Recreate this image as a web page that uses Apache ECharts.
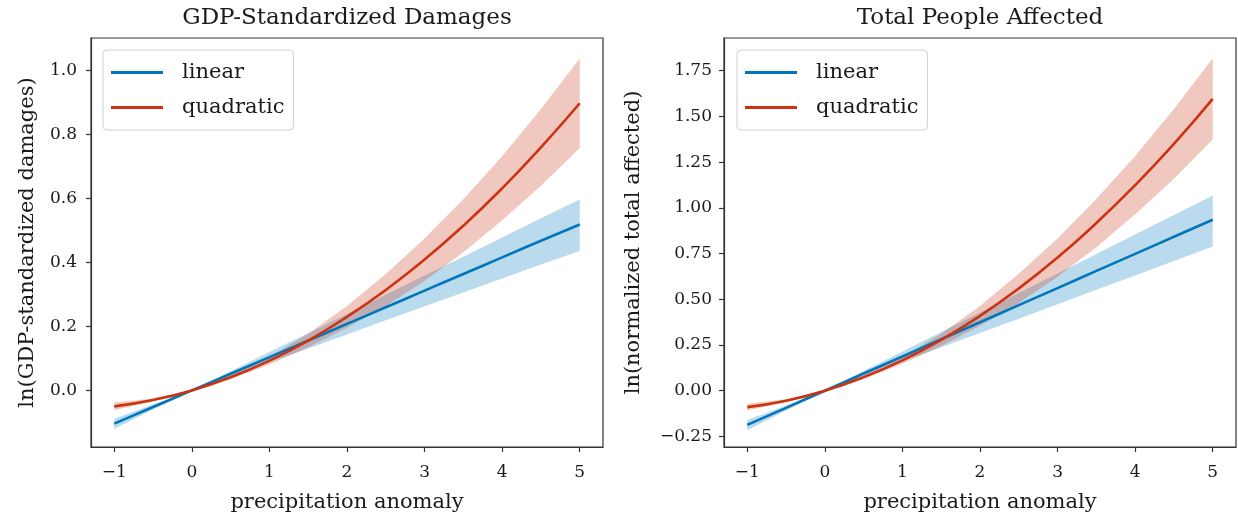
<!DOCTYPE html>
<html>
<head>
<meta charset="utf-8">
<script src="https://cdn.jsdelivr.net/npm/echarts@6/dist/echarts.min.js"></script>
<style>
  html, body { margin: 0; padding: 0; background: #fff; }
  #chart { width: 1238px; height: 518px; }
</style>
</head>
<body>
<div id="chart"></div>
<script>
// precipitation anomaly sample points
var xs = [-1, -0.5, 0, 0.5, 1, 1.5, 2, 2.5, 3, 3.5, 4, 4.5, 5];

// left panel: GDP-standardized damages
var dmgLinear   = [-0.104, -0.052, 0, 0.052, 0.104, 0.156, 0.208, 0.260, 0.312, 0.364, 0.416, 0.468, 0.519];
var dmgLinearHi = [-0.089, -0.044, 0, 0.060, 0.120, 0.179, 0.239, 0.299, 0.359, 0.418, 0.478, 0.538, 0.597];
var dmgLinearLo = [-0.121, -0.060, 0, 0.044, 0.088, 0.131, 0.175, 0.219, 0.263, 0.306, 0.350, 0.394, 0.436];
var dmgQuad     = [-0.050, -0.030, 0, 0.041, 0.093, 0.156, 0.230, 0.314, 0.409, 0.515, 0.632, 0.760, 0.898];
var dmgQuadHi   = [-0.038, -0.025, 0, 0.047, 0.105, 0.177, 0.264, 0.364, 0.475, 0.598, 0.732, 0.880, 1.038];
var dmgQuadLo   = [-0.062, -0.035, 0, 0.035, 0.081, 0.135, 0.196, 0.264, 0.343, 0.432, 0.532, 0.640, 0.758];

// right panel: total people affected
var affLinear   = [-0.187, -0.094, 0, 0.094, 0.187, 0.281, 0.374, 0.468, 0.561, 0.655, 0.748, 0.842, 0.935];
var affLinearHi = [-0.161, -0.081, 0, 0.107, 0.214, 0.321, 0.427, 0.534, 0.641, 0.748, 0.854, 0.961, 1.068];
var affLinearLo = [-0.217, -0.109, 0, 0.079, 0.158, 0.237, 0.315, 0.394, 0.473, 0.552, 0.630, 0.709, 0.788];
var affQuad     = [-0.090, -0.055, 0, 0.074, 0.166, 0.278, 0.409, 0.559, 0.728, 0.917, 1.124, 1.350, 1.596];
var affQuadHi   = [-0.071, -0.047, 0, 0.084, 0.185, 0.311, 0.463, 0.639, 0.833, 1.049, 1.283, 1.541, 1.818];
var affQuadLo   = [-0.109, -0.063, 0, 0.064, 0.147, 0.245, 0.355, 0.479, 0.623, 0.785, 0.965, 1.159, 1.374];

// tick labels
var xTicks = [-1, 0, 1, 2, 3, 4, 5];
var dmgTicks = [0, 0.2, 0.4, 0.6, 0.8, 1.0];
var affTicks = [-0.25, 0, 0.25, 0.5, 0.75, 1.0, 1.25, 1.5, 1.75];

var BLUE = '#0077bb', RED = '#cc3311';
var BLUE_BAND = 'rgba(0,119,187,0.27)', RED_BAND = 'rgba(204,51,17,0.27)';
var FONT = '"DejaVu Serif", "Liberation Serif", serif';
var INK = '#1a1a1a';

function pairs(ys) {
  return xs.map(function (x, i) { return [x, ys[i]]; });
}
function minus(v, digits) {
  var s = Math.abs(v).toFixed(digits);
  return (v < 0 ? '\u2212' : '') + s;
}

// confidence band: one polygon, upper edge forward then lower edge back
function band(idx, lo, hi, color) {
  return {
    type: 'custom', xAxisIndex: idx, yAxisIndex: idx, silent: true, z: 1,
    data: xs.map(function (x, i) { return [x, lo[i], hi[i]]; }),
    encode: { x: 0, y: [1, 2] },
    renderItem: function (params, api) {
      if (params.dataIndex !== 0) return null;
      var pts = [];
      for (var i = 0; i < xs.length; i++) pts.push(api.coord([xs[i], hi[i]]));
      for (var j = xs.length - 1; j >= 0; j--) pts.push(api.coord([xs[j], lo[j]]));
      return { type: 'polygon', shape: { points: pts }, style: { fill: color } };
    }
  };
}
function curve(name, idx, ys, color) {
  return {
    name: name, type: 'line', xAxisIndex: idx, yAxisIndex: idx,
    data: pairs(ys), smooth: true, symbol: 'none', z: 3,
    itemStyle: { color: color },
    lineStyle: { color: color, width: 2.6 }
  };
}

function xAxis(idx) {
  return {
    type: 'value', gridIndex: idx, min: -1.3, max: 5.3,
    name: 'precipitation anomaly', nameLocation: 'middle', nameGap: 45,
    nameTextStyle: { fontFamily: FONT, fontSize: 21, color: INK },
    axisLine: { show: true, onZero: false, lineStyle: { color: '#333', width: 1.2 } },
    axisTick: { show: true, length: 5, customValues: xTicks, lineStyle: { color: '#333', width: 1.2 } },
    axisLabel: { customValues: xTicks, margin: 17, fontFamily: FONT, fontSize: 17, color: INK,
      formatter: function (v) { return minus(v, 0); } },
    splitLine: { show: false }
  };
}
function yAxis(idx, name, min, max, ticks, digits, gap, margin) {
  return {
    type: 'value', gridIndex: idx, min: min, max: max,
    name: name, nameLocation: 'middle', nameGap: gap, nameRotate: 90,
    nameTextStyle: { fontFamily: FONT, fontSize: 21, color: INK },
    axisLine: { show: true, onZero: false, lineStyle: { color: '#333', width: 1.2 } },
    axisTick: { show: true, length: 5, customValues: ticks, lineStyle: { color: '#333', width: 1.2 } },
    axisLabel: { customValues: ticks, margin: margin, fontFamily: FONT, fontSize: 17, color: INK,
      formatter: function (v) { return minus(v, digits); } },
    splitLine: { show: false }
  };
}
function legend(left) {
  return {
    orient: 'vertical', left: left, top: 50,
    data: ['linear', 'quadratic'],
    icon: 'rect', itemWidth: 52, itemHeight: 3, itemGap: 14,
    padding: [12, 9, 12, 8],
    backgroundColor: 'rgba(255,255,255,0.8)', borderColor: '#d0d0d0', borderWidth: 1, borderRadius: 4,
    selectedMode: false,
    textStyle: { fontFamily: FONT, fontSize: 21, color: INK, padding: [0, 0, 0, 14] }
  };
}

var chart = echarts.init(document.getElementById('chart'), null, { renderer: 'canvas' });
chart.setOption({
  backgroundColor: '#fff',
  animation: false,
  title: [
    { text: 'GDP-Standardized Damages', left: 347, top: 7, textAlign: 'center', padding: 0,
      textStyle: { fontFamily: FONT, fontSize: 23, fontWeight: 'normal', color: INK } },
    { text: 'Total People Affected', left: 980, top: 7, textAlign: 'center', padding: 0,
      textStyle: { fontFamily: FONT, fontSize: 23, fontWeight: 'normal', color: INK } }
  ],
  legend: [legend(103), legend(737)],
  grid: [
    { left: 91, top: 38, right: 635, bottom: 68, show: true, borderColor: '#333', borderWidth: 1.2 },
    { left: 724, top: 38, right: 2, bottom: 68, show: true, borderColor: '#333', borderWidth: 1.2 }
  ],
  xAxis: [xAxis(0), xAxis(1)],
  yAxis: [
    yAxis(0, 'ln(GDP-standardized damages)', -0.177, 1.102, dmgTicks, 1, 53, 14),
    yAxis(1, 'ln(normalized total affected)', -0.308, 1.929, affTicks, 2, 80, 12)
  ],
  series: [
    band(0, dmgLinearLo, dmgLinearHi, BLUE_BAND),
    band(0, dmgQuadLo, dmgQuadHi, RED_BAND),
    curve('linear', 0, dmgLinear, BLUE),
    curve('quadratic', 0, dmgQuad, RED),
    band(1, affLinearLo, affLinearHi, BLUE_BAND),
    band(1, affQuadLo, affQuadHi, RED_BAND),
    curve('linear', 1, affLinear, BLUE),
    curve('quadratic', 1, affQuad, RED)
  ]
});
</script>
</body>
</html>
